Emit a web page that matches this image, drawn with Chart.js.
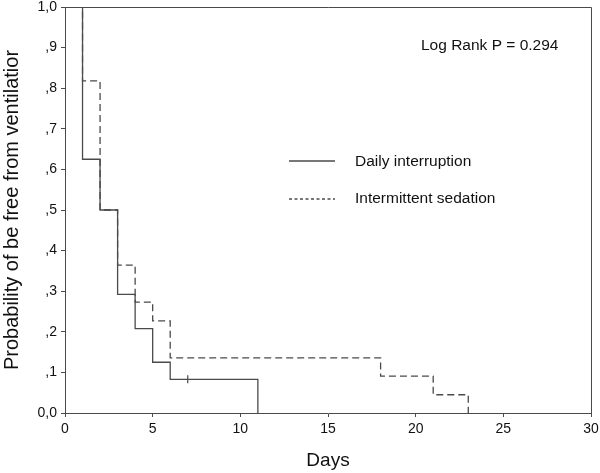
<!DOCTYPE html>
<html>
<head>
<meta charset="utf-8">
<script src="https://cdn.jsdelivr.net/npm/chart.js@4.4.1/dist/chart.umd.min.js"></script>
<style>
  html, body { margin: 0; padding: 0; background: #fff; }
  #wrap { width: 600px; height: 473px; }
</style>
</head>
<body>
<div id="wrap"><canvas id="km"></canvas></div>
<script>
// Kaplan-Meier step points (day, survival)
const dailyDays = [0, 1, 2, 3, 4, 5, 6, 11];
const dailySurv = [1, 0.625, 0.5, 0.292, 0.208, 0.125, 0.083, 0];
const sedDays = [0, 1, 2, 3, 4, 5, 6, 18, 21, 23];
const sedSurv = [1, 0.818, 0.5, 0.364, 0.273, 0.227, 0.136, 0.091, 0.045, 0];
const censorDays = [7];
const censorSurv = [0.083];
const seriesNames = ["Daily interruption", "Intermittent sedation"];
const xTicks = [0, 5, 10, 15, 20, 25, 30];
const yTickLabels = ["0,0", ",1", ",2", ",3", ",4", ",5", ",6", ",7", ",8", ",9", "1,0"];
const pValueText = "Log Rank P = 0.294";

const lineColor = "#4a4a4a";
const font = "Liberation Sans, Arial, sans-serif";

const toPts = (xs, ys) => xs.map((x, i) => ({ x: x, y: ys[i] }));

// frame + legend + p-value text
const extras = {
  id: "extras",
  afterDraw(chart) {
    const ctx = chart.ctx;
    const a = chart.chartArea;
    ctx.save();
    ctx.strokeStyle = lineColor;
    ctx.lineWidth = 1;
    ctx.beginPath();
    ctx.moveTo(a.left, a.top + 0.5);
    ctx.lineTo(a.right + 0.5, a.top + 0.5);
    ctx.lineTo(a.right + 0.5, a.bottom);
    ctx.stroke();

    ctx.fillStyle = "#111";
    ctx.font = "15.5px " + font;
    ctx.textBaseline = "middle";
    ctx.textAlign = "left";
    ctx.fillText(pValueText, 421, 46);

    // legend
    ctx.lineWidth = 1.3;
    ctx.beginPath();
    ctx.moveTo(289, 161);
    ctx.lineTo(335, 161);
    ctx.stroke();
    ctx.setLineDash([3, 2.5]);
    ctx.beginPath();
    ctx.moveTo(289, 199);
    ctx.lineTo(335, 199);
    ctx.stroke();
    ctx.setLineDash([]);
    ctx.fillText(seriesNames[0], 355, 162);
    ctx.fillText(seriesNames[1], 355, 199);
    ctx.restore();
  }
};

new Chart(document.getElementById("km"), {
  type: "line",
  data: {
    datasets: [
      {
        label: seriesNames[0],
        data: toPts(dailyDays, dailySurv),
        stepped: true,
        borderColor: lineColor,
        borderWidth: 1.3,
        pointRadius: 0,
        fill: false
      },
      {
        label: seriesNames[1],
        data: toPts(sedDays, sedSurv),
        stepped: true,
        borderColor: lineColor,
        borderWidth: 1.3,
        borderDash: [7, 4],
        pointRadius: 0,
        fill: false
      },
      {
        label: "censored",
        data: toPts(censorDays, censorSurv),
        showLine: false,
        pointStyle: "line",
        rotation: 90,
        pointRadius: 4,
        pointBorderColor: lineColor,
        pointBorderWidth: 1.2
      }
    ]
  },
  options: {
    responsive: true,
    maintainAspectRatio: false,
    animation: false,
    layout: { padding: { top: 7, right: 9, left: 0, bottom: 0 } },
    plugins: { legend: { display: false }, tooltip: { enabled: false } },
    scales: {
      x: {
        type: "linear",
        min: 0,
        max: 30,
        afterFit: s => { s.height = 60; s.paddingLeft = 0; s.paddingRight = 0; },
        afterBuildTicks: s => { s.ticks = xTicks.map(v => ({ value: v })); },
        grid: { drawOnChartArea: false, tickLength: 4, color: lineColor },
        border: { color: lineColor, width: 1 },
        ticks: { color: "#111", font: { family: font, size: 14 }, padding: 4, maxRotation: 0 },
        title: { display: true, text: "Days", color: "#111", font: { family: font, size: 19 }, padding: { top: 0, bottom: 1 } }
      },
      y: {
        min: 0,
        max: 1,
        afterFit: s => { s.width = 65; s.paddingTop = 0; s.paddingBottom = 0; },
        afterBuildTicks: s => { s.ticks = yTickLabels.map((t, i) => ({ value: i / 10 })); },
        grid: { drawOnChartArea: false, tickLength: 4, color: lineColor },
        border: { color: lineColor, width: 1 },
        ticks: {
          color: "#111",
          font: { family: font, size: 14 },
          padding: 4,
          callback: (v, i) => yTickLabels[Math.round(v * 10)]
        },
        title: { display: true, text: "Probability of be free from ventilatior", color: "#111", font: { family: font, size: 20 }, padding: { top: 0, bottom: 0 } }
      }
    }
  },
  plugins: [extras]
});
</script>
</body>
</html>
